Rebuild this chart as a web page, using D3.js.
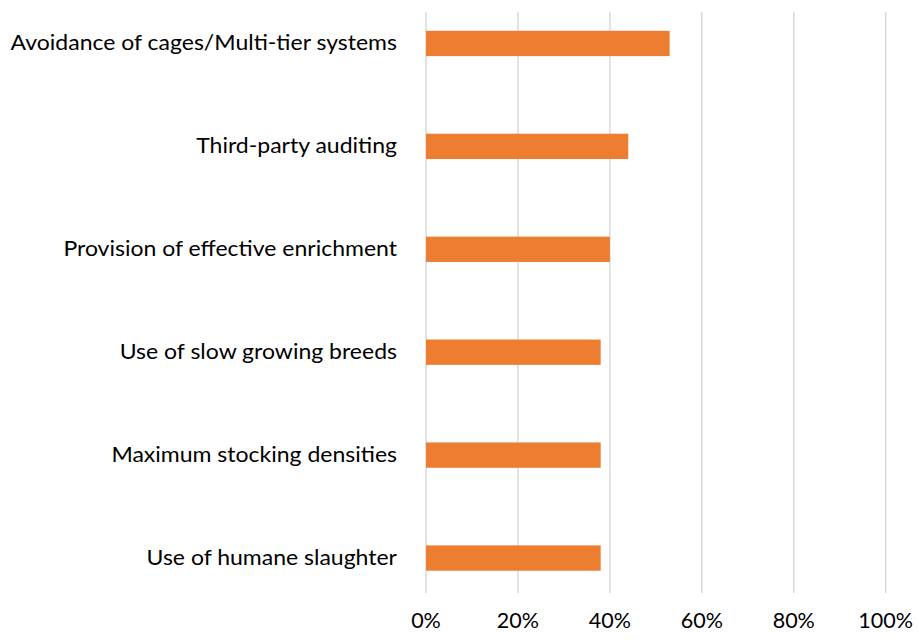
<!DOCTYPE html>
<html><head><meta charset="utf-8">
<script src="https://cdn.jsdelivr.net/npm/d3@7"></script>
<style>body{margin:0;background:#fff}svg{display:block}</style>
</head><body><svg id="c" width="919" height="642"></svg>
<script>
const categories = ["Avoidance of cages/Multi-tier systems","Third-party auditing","Provision of effective enrichment","Use of slow growing breeds","Maximum stocking densities","Use of humane slaughter"];
const values = [53, 44, 40, 38, 38, 38];
const ticks = [0, 20, 40, 60, 80, 100];

const svg = d3.select("#c");
const font = "Lato, 'Open Sans', sans-serif";
const x = d3.scaleLinear().domain([0, 100]).range([426, 885.7]);
const y = d3.scaleBand().domain(categories).range([-8, 609.5]).paddingInner(0.754).paddingOuter(0.377);

svg.append("g").selectAll("line").data(ticks).join("line")
  .attr("x1", d => x(d)).attr("x2", d => x(d))
  .attr("y1", 12).attr("y2", 593)
  .attr("stroke", "#d9d9d9").attr("stroke-width", 1.5);

svg.append("g").selectAll("rect").data(values).join("rect")
  .attr("x", x(0)).attr("width", d => x(d) - x(0))
  .attr("y", (d, i) => y(categories[i])).attr("height", y.bandwidth())
  .attr("fill", "#ED7D31");

svg.append("g").selectAll("text").data(categories).join("text")
  .attr("x", 397).attr("y", d => y(d) + y.bandwidth() / 2 - 1.5)
  .attr("text-anchor", "end").attr("dominant-baseline", "central")
  .attr("font-family", font).attr("font-size", 21).attr("fill", "#000")
  .text(d => d)
  .each(function () {
    const w = this.getComputedTextLength();
    d3.select(this).attr("textLength", w * 1.095).attr("lengthAdjust", "spacingAndGlyphs");
  });

svg.append("g").selectAll("text").data(ticks).join("text")
  .attr("x", d => x(d)).attr("y", 628)
  .attr("text-anchor", "middle")
  .attr("font-family", font).attr("font-size", 21.5).attr("fill", "#000")
  .text(d => d + "%");
</script></body></html>
